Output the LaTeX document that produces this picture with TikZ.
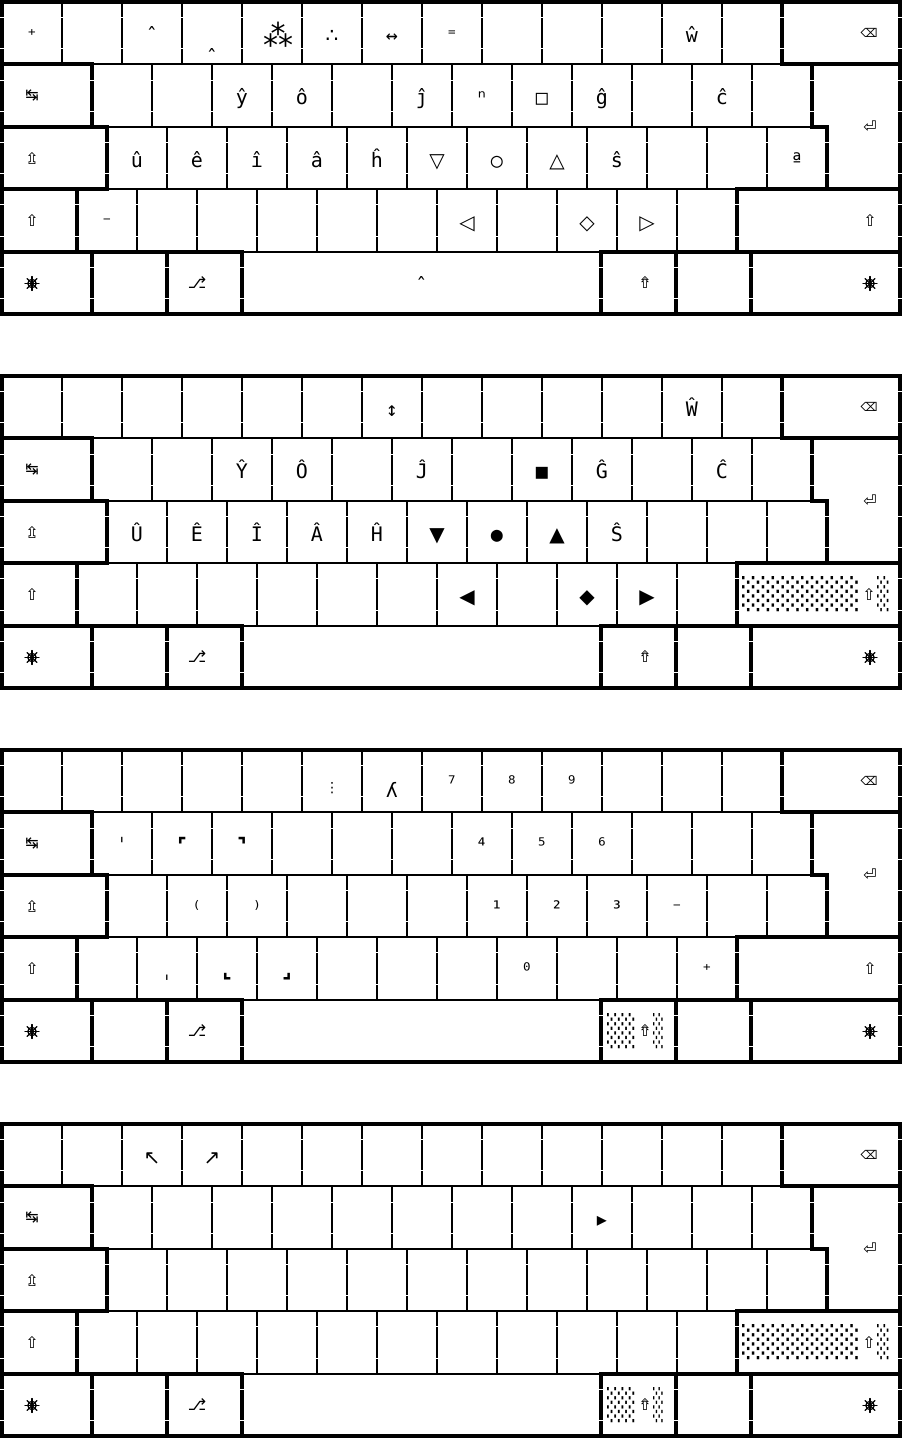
\documentclass[tikz,border=0pt]{standalone}
\usepackage{fontspec}
\setmainfont{DejaVu Sans Mono}
\newfontfamily\symf{DejaVu Sans}
\newcounter{lb}
\tikzset{
  thinl/.style={line width=2pt},
  thickl/.style={line width=4pt},
  tickl/.style={white, line width=1pt},
  lbl/.style={anchor=base, inner sep=0pt, font=\fontsize{20}{24}\selectfont},
  slbl/.style={anchor=base, inner sep=0pt, font=\symf\fontsize{20}{24}\selectfont},
  mod/.style={anchor=center, inner sep=0pt, font=\symf\fontsize{16}{18}\selectfont},
  shade/.style={inner sep=0pt, anchor=west, font=\fontsize{30}{32}\selectfont},
  helmline/.style={line width=1.2pt, line cap=round}
}
% label (mono), base line
\newcommand\KL[3]{\stepcounter{lb}\node[lbl] (L\thelb) at (#1,#2) {#3};}
% label (symbol font)
\newcommand\KS[3]{\stepcounter{lb}\node[slbl] (L\thelb) at (#1,#2) {#3};}
% modifier symbol
\newcommand\KM[3]{\stepcounter{lb}\node[mod] (L\thelb) at (#1,#2) {#3};}
% helm (control key) symbol drawn as a shape
\newcommand\helm[2]{%
  \begin{scope}[shift={(#1,#2)}]
    \draw[helmline] (0,0) circle (4.2);
    \foreach \a in {0,45,...,315} \draw[helmline] (\a:1.2) -- (\a:7);
    \fill (0,0) circle (1.6);
  \end{scope}}
% shaded block: x-left, y-centre, width, characters
\newcommand\shadeblk[4]{%
  \stepcounter{lb}\node[shade] (L\thelb) at (#1,#2) {\resizebox{#3pt}{28pt}{#4}};}
\newcommand\kbgrid{%
  \foreach \i in {0,...,12} \draw[thinl] ({2+60*\i},2) rectangle ({62+60*\i},64.4);
  \foreach \i in {0,...,11} \draw[thinl] ({92+60*\i},64.4) rectangle ({152+60*\i},126.8);
  \foreach \i in {0,...,11} \draw[thinl] ({107+60*\i},126.8) rectangle ({167+60*\i},189.2);
  \foreach \i in {0,...,10} \draw[thinl] ({77+60*\i},189.2) rectangle ({137+60*\i},251.6);
  \draw[thinl] (242,251.6) rectangle (601,314);
  % modifiers
  \draw[thickl] (782,2) rectangle (900,64.4);
  \draw[thickl] (2,64.4) rectangle (92,126.8);
  \draw[thickl] (812,64.4) -- (900,64.4) -- (900,189.2) -- (827,189.2) -- (827,126.8) -- (812,126.8) -- cycle;
  \draw[thickl] (2,126.8) rectangle (107,189.2);
  \draw[thickl] (2,189.2) rectangle (77,251.6);
  \draw[thickl] (737,189.2) rectangle (900,251.6);
  \draw[thickl] (2,251.6) rectangle (92,314);
  \draw[thickl] (92,251.6) rectangle (167,314);
  \draw[thickl] (167,251.6) rectangle (242,314);
  \draw[thickl] (601,251.6) rectangle (676,314);
  \draw[thickl] (676,251.6) rectangle (751,314);
  \draw[thickl] (751,251.6) rectangle (900,314);
  \draw[thickl] (2,2) rectangle (900,314);
  % white notches
  \foreach \r in {2,64.4,126.8,189.2,251.6} {
    \draw[tickl] (0,\r+15.6) -- (902,\r+15.6);
    \draw[tickl] (0,\r+46.8) -- (902,\r+46.8);
  }
  % modifier legends
  \stepcounter{lb}\node[mod, font=\symf\fontsize{12}{14}\selectfont] (L\thelb) at (869,33.2) {⌫};
  \KM{32}{95.6}{↹}
  \KM{870}{126.8}{⏎}
  \KM{32}{158}{⇫}
  \KM{32}{220.4}{⇧}
  \helm{32}{283.5}
  \KM{197}{282.8}{⎇}
  \helm{870}{283.5}
}
\begin{document}
\begin{tikzpicture}[x=1pt,y=-1pt]
\useasboundingbox (0,0) rectangle (902,1440);
\fill[white] (0,0) rectangle (902,1440);
% ---------------- keyboard 1
\begin{scope}
\kbgrid
\KL{32}{42.5}{⁺} \KL{152}{42.5}{ˆ} \KL{212}{64.1}{ˆ}
\stepcounter{lb}\node[anchor=center, inner sep=0pt, font=\symf\fontsize{30}{32}\selectfont] (L\thelb) at (278,35) {⁂};
\KS{332}{42.5}{∴} \KL{392}{42.5}{↔} \KL{452}{42.5}{⁼} \KL{692}{42.5}{ŵ}
\KL{242}{104.9}{ŷ} \KL{302}{104.9}{ô} \KL{422}{104.9}{ĵ} \KL{482}{104.9}{ⁿ}
\KL{542}{104.9}{□} \KL{602}{104.9}{ĝ} \KL{722}{104.9}{ĉ}
\KL{137}{167.3}{û} \KL{197}{167.3}{ê} \KL{257}{167.3}{î} \KL{317}{167.3}{â}
\KL{377}{167.3}{ĥ} \KS{437}{167.3}{▽} \KL{497}{167.3}{○} \KS{557}{167.3}{△}
\KL{617}{167.3}{ŝ} \KL{797}{167.3}{ª}
\KL{107}{229.7}{⁻} \KS{467}{229.7}{◁} \KS{587}{229.7}{◇} \KS{647}{229.7}{▷}
\KM{870}{220.4}{⇧}
\KL{421.5}{292.1}{ˆ}
\KM{645}{282.8}{⇮}
\end{scope}
% ---------------- keyboard 2
\begin{scope}[shift={(0,374)}]
\kbgrid
\KL{392}{42.5}{↕} \KL{692}{42.5}{Ŵ}
\KL{242}{104.9}{Ŷ} \KL{302}{104.9}{Ô} \KL{422}{104.9}{Ĵ} \KL{542}{104.9}{■}
\KL{602}{104.9}{Ĝ} \KL{722}{104.9}{Ĉ}
\KL{137}{167.3}{Û} \KL{197}{167.3}{Ê} \KL{257}{167.3}{Î} \KL{317}{167.3}{Â}
\KL{377}{167.3}{Ĥ} \KS{437}{167.3}{▼} \KL{497}{167.3}{●} \KS{557}{167.3}{▲}
\KL{617}{167.3}{Ŝ}
\KS{467}{229.7}{◀} \KS{587}{229.7}{◆} \KS{647}{229.7}{▶}
\shadeblk{742}{220.4}{118}{░░░░░░}
\KM{869}{220.4}{⇧}
\shadeblk{877}{220.4}{13}{░}
\KM{645}{282.8}{⇮}
\end{scope}
% ---------------- keyboard 3
\begin{scope}[shift={(0,748)}]
\kbgrid
\stepcounter{lb}\node[slbl, font=\symf\fontsize{14}{16}\selectfont] (L\thelb) at (332,44) {⋮};
\KL{392}{49.5}{ʎ} \KL{452}{42.5}{⁷} \KL{512}{42.5}{⁸} \KL{572}{42.5}{⁹}
\KL{122}{104.9}{ˈ}
\stepcounter{lb}\node[slbl, font=\symf\bfseries\fontsize{20}{24}\selectfont] (L\thelb) at (182,104.9) {⌜};
\stepcounter{lb}\node[slbl, font=\symf\bfseries\fontsize{20}{24}\selectfont] (L\thelb) at (242,104.9) {⌝};
\KL{482}{104.9}{⁴} \KL{542}{104.9}{⁵} \KL{602}{104.9}{⁶}
\KL{197}{167.3}{⁽} \KL{257}{167.3}{⁾} \KL{497}{167.3}{¹} \KL{557}{167.3}{²}
\KL{617}{167.3}{³} \KL{677}{167.3}{⁻}
\KL{167}{229.7}{ˌ}
\stepcounter{lb}\node[slbl, font=\symf\bfseries\fontsize{20}{24}\selectfont] (L\thelb) at (227,229.7) {⌞};
\stepcounter{lb}\node[slbl, font=\symf\bfseries\fontsize{20}{24}\selectfont] (L\thelb) at (287,229.7) {⌟};
\KL{527}{229.7}{⁰} \KL{707}{229.7}{⁺}
\KM{870}{220.4}{⇧}
\shadeblk{607}{282.8}{29}{░░}
\KM{645}{282.8}{⇮}
\shadeblk{653}{282.8}{11}{░}
\end{scope}
% ---------------- keyboard 4
\begin{scope}[shift={(0,1122)}]
\kbgrid
\KS{152}{42.5}{↖} \KS{212}{42.5}{↗}
\KS{602}{104.9}{▸}
\shadeblk{742}{220.4}{118}{░░░░░░}
\KM{869}{220.4}{⇧}
\shadeblk{877}{220.4}{13}{░}
\shadeblk{607}{282.8}{29}{░░}
\KM{645}{282.8}{⇮}
\shadeblk{653}{282.8}{11}{░}
\end{scope}
\end{tikzpicture}
\end{document}
